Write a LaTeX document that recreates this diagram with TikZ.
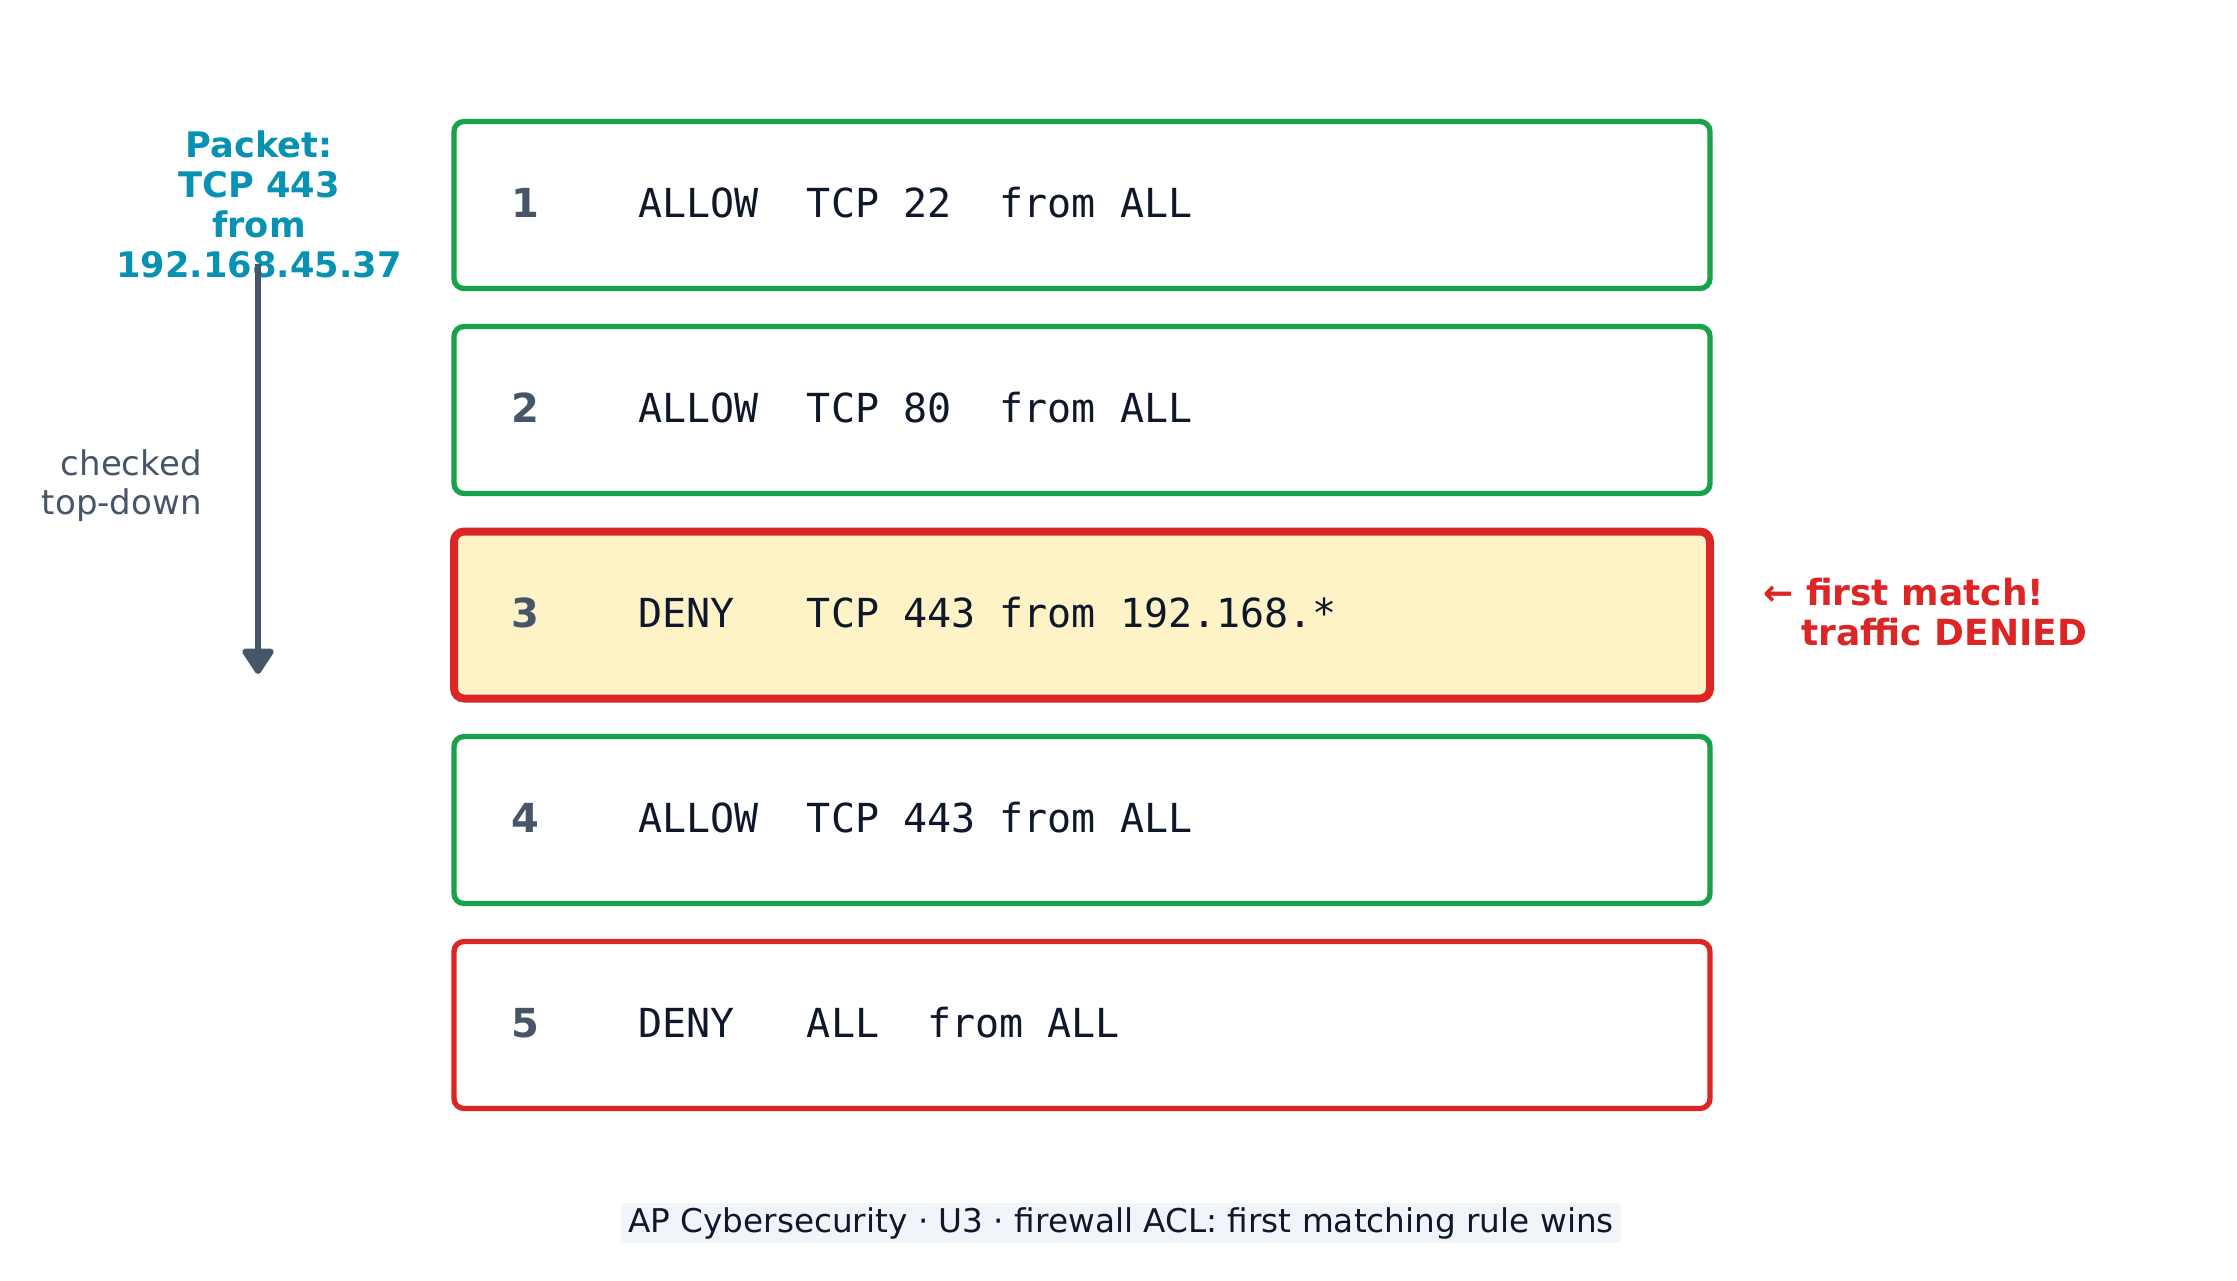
\documentclass[tikz,border=0pt]{standalone}
\usepackage{fontspec}
\setmainfont{DejaVu Sans}
\setmonofont{DejaVu Sans Mono}
\usetikzlibrary{arrows.meta}
\definecolor{allowgreen}{HTML}{16A34A}
\definecolor{denyred}{HTML}{DC2626}
\definecolor{matchfill}{HTML}{FEF3C7}
\definecolor{slate}{HTML}{475569}
\definecolor{ink}{HTML}{0F172A}
\definecolor{packetteal}{HTML}{0891B2}
\definecolor{capbg}{HTML}{F1F5F9}

\begin{document}
\begin{tikzpicture}[x=0.5pt,y=-0.5pt,
  rulebox/.style={rectangle,rounded corners=5pt,minimum width=628pt,minimum height=83.5pt,line width=2.65pt,fill=white},
  allowrule/.style={rulebox,draw=allowgreen},
  denyrule/.style={rulebox,draw=denyred},
  rulenum/.style={anchor=base,inner sep=0pt,text=slate,font=\fontsize{20}{24}\selectfont\bfseries},
  ruletext/.style={anchor=base west,inner sep=0pt,text=ink,font=\fontsize{20}{24}\selectfont\ttfamily}]
\useasboundingbox (0,0) rectangle (2237,1280);

\node[align=center,anchor=north,inner sep=0pt,text=packetteal,font=\fontsize{17.6}{20}\selectfont\bfseries] (packet) at (259,130) {Packet:\\TCP 443\\from\\192.168.45.37};
\node[align=right,anchor=north east,inner sep=0pt,text=slate,font=\fontsize{17}{19.5}\selectfont] (order) at (202,449) {checked\\top-down};
\coordinate (scanstart) at (258,264);
\coordinate (scanend) at (258,674);
\draw[-{Triangle[width=17.5pt,length=14pt,round]},line width=3pt,color=slate] (scanstart) to (scanend);

\node[allowrule] (rule1) at (1082,205) {};
\node[allowrule] (rule2) at (1082,410) {};
\node[denyrule,fill=matchfill,line width=4pt] (rule3) at (1082,615) {};
\node[allowrule] (rule4) at (1082,820) {};
\node[denyrule] (rule5) at (1082,1025) {};

\node[rulenum] (num1) at (525,217) {1};
\node[rulenum] (num2) at (525,422) {2};
\node[rulenum] (num3) at (525,627) {3};
\node[rulenum] (num4) at (525,832) {4};
\node[rulenum] (num5) at (525,1037) {5};

\node[ruletext] (acl1) at (638,217) {ALLOW\ \ TCP 22\ \ from ALL};
\node[ruletext] (acl2) at (638,422) {ALLOW\ \ TCP 80\ \ from ALL};
\node[ruletext] (acl3) at (638,627) {DENY\ \ \ TCP 443 from 192.168.*};
\node[ruletext] (acl4) at (638,832) {ALLOW\ \ TCP 443 from ALL};
\node[ruletext] (acl5) at (638,1037) {DENY\ \ \ ALL\ \ from ALL};

\node[align=left,anchor=north west,inner sep=0pt,text=denyred,font=\fontsize{18}{20}\selectfont\bfseries] (verdict) at (1763,578) {← first match!\\\hspace*{19pt}traffic DENIED};

\node[anchor=base,fill=capbg,rounded corners=2pt,inner xsep=3.5pt,inner ysep=2pt,text=ink,font=\fontsize{16.35}{20}\selectfont] (caption) at (1121,1232) {AP Cybersecurity · U3 · firewall ACL: first matching rule wins};

\end{tikzpicture}
\end{document}
